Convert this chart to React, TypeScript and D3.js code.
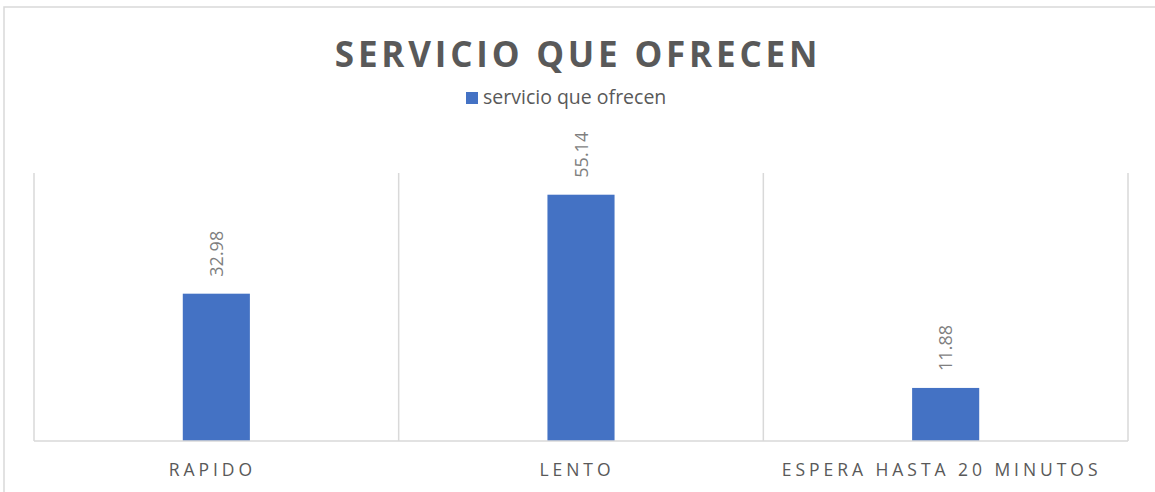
import React from "react";
import * as d3 from "d3";

const categories = ["RAPIDO", "LENTO", "ESPERA HASTA 20 MINUTOS"];
const values = [32.98, 55.14, 11.88];
const seriesName = "servicio que ofrecen";
const title = "SERVICIO QUE OFRECEN";
const yMax = 60;

const W = 1155;
const H = 492;
const plot = { left: 34, right: 1128, top: 173, bottom: 441 };
const BLUE = "#4472C4";
const GRID = "#d9d9d9";
const TEXT = "#595959";
const FONT = "'Open Sans', 'Liberation Sans', sans-serif";

export default function App() {
  const x = d3
    .scaleBand<string>()
    .domain(categories)
    .range([plot.left, plot.right])
    .paddingInner(0)
    .paddingOuter(0);
  const bw = x.bandwidth();
  const barW = bw * 0.184;
  const y = d3.scaleLinear().domain([0, yMax]).range([plot.bottom, plot.top]);

  const gridXs = [...categories.map((c) => x(c) as number), plot.right];

  return (
    <svg
      width={W}
      height={H}
      style={{ position: "absolute", left: 0, top: 0, display: "block", background: "#fff" }}
    >
      <rect x={0} y={0} width={W} height={H} fill="#fff" />
      <rect x={4} y={7} width={W + 20} height={H + 20} fill="none" stroke={GRID} strokeWidth={1.5} />
      <text
        x={578}
        y={67}
        textAnchor="middle"
        fontFamily={FONT}
        fontWeight={700}
        fontSize={35}
        letterSpacing={3.8}
        fill={TEXT}
      >
        {title}
      </text>
      <rect x={466} y={92} width={12} height={12} fill={BLUE} />
      <text x={483} y={104} fontFamily={FONT} fontSize={19.5} fill={TEXT}>
        {seriesName}
      </text>
      {gridXs.map((gx, i) => (
        <line key={i} x1={gx} x2={gx} y1={plot.top} y2={plot.bottom} stroke={GRID} strokeWidth={1.5} />
      ))}
      {categories.map((c, i) => {
        const cx = (x(c) as number) + bw / 2;
        return (
          <rect key={c} x={cx - barW / 2} y={y(values[i])} width={barW} height={plot.bottom - y(values[i])} fill={BLUE} />
        );
      })}
      <line x1={plot.left} x2={plot.right} y1={plot.bottom} y2={plot.bottom} stroke={GRID} strokeWidth={1.5} />
      {categories.map((c, i) => {
        const cx = (x(c) as number) + bw / 2;
        const ty = y(values[i]) - 17;
        return (
          <text
            key={c}
            transform={`translate(${cx + 6.5},${ty}) rotate(-90)`}
            fontFamily={FONT}
            fontSize={18}
            fill="#7f7f7f"
          >
            {values[i].toFixed(2)}
          </text>
        );
      })}
      {categories.map((c) => {
        const cx = (x(c) as number) + bw / 2;
        return (
          <text
            key={c}
            x={cx - 4}
            y={476}
            textAnchor="middle"
            fontFamily={FONT}
            fontSize={17.5}
            letterSpacing={3.95}
            fill={TEXT}
          >
            {c}
          </text>
        );
      })}
    </svg>
  );
}
